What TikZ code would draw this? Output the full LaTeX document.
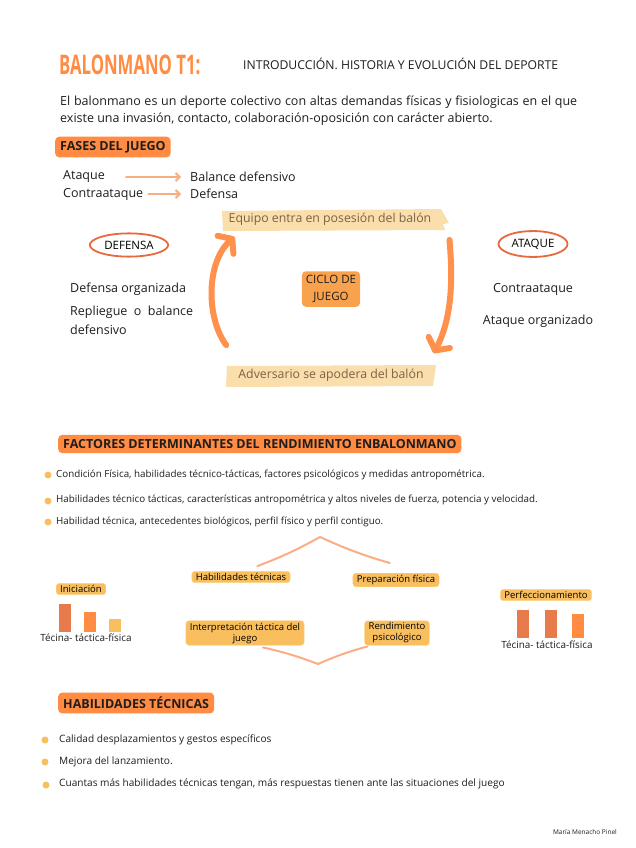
\documentclass[tikz,border=0pt]{standalone}
\usepackage{fontspec}
\setmainfont{Open Sans}
\newfontfamily\titlefont[FakeStretch=0.62]{Open Sans}
\usetikzlibrary{arrows.meta,positioning,shapes.geometric}
\definecolor{balOrange}{RGB}{255, 140, 66}
\definecolor{balDark}{RGB}{30, 30, 30}
\definecolor{balLightArrow}{RGB}{248, 174, 133}
\definecolor{balBand}{RGB}{250, 222, 172}
\definecolor{balBandText}{RGB}{122, 98, 70}
\definecolor{balRing}{RGB}{232, 105, 63}
\definecolor{balCiclo}{RGB}{249, 162, 78}
\definecolor{balBigArrow}{RGB}{255, 145, 77}
\definecolor{balYellow}{RGB}{249, 191, 94}
\definecolor{balYellowEdge}{RGB}{252, 214, 140}
\definecolor{balCurve}{RGB}{251, 174, 133}
\definecolor{balBarA}{RGB}{232, 123, 76}

\begin{document}
\begin{tikzpicture}[
  x=1pt, y=-1pt,
  body/.style={font=\fontsize{12.5}{17.5}\selectfont, text=balDark, inner sep=0pt},
  header/.style={
    fill=balOrange,
    rounded corners=4pt,
    anchor=west,
    inner xsep=5pt, inner ysep=4.5pt,
    text=balDark,
    font=\bfseries\fontsize{12.5}{14}\selectfont
  },
  band/.style={text=balBandText, inner sep=0pt,
    font=\fontsize{12.3}{14}\selectfont},
  ring/.style={ellipse, draw=balRing, line width=1.8pt, inner xsep=3pt, inner ysep=4pt,
    font=\fontsize{11.5}{13}\selectfont},
  mindbox/.style={fill=balYellow, draw=balYellowEdge, rounded corners=3pt,
    align=center, inner xsep=4pt, inner ysep=2pt,
    font=\fontsize{9.5}{11}\selectfont},
  small/.style={font=\fontsize{9.8}{11}\selectfont, text=balDark, inner sep=0pt, anchor=west},
  smaller/.style={small, font=\fontsize{10.1}{11}\selectfont},
  dot/.style={circle, fill=balYellow, inner sep=0pt, minimum size=7pt},
  arrow/.style={-{Straight Barb[length=4pt,width=8pt]}, line width=2pt, balLightArrow, line cap=round},
  bigarrow/.style={-{Straight Barb[round,length=9pt,width=24pt]}, line width=6pt, balBigArrow, line cap=round},
  bar/.style={fill=#1, draw=none}
]
  \useasboundingbox[fill=white] (0,0) rectangle (636,848);

  % title
  \node[anchor=west, inner sep=0pt, text=balOrange, font=\titlefont\bfseries\fontsize{27}{28}\selectfont]
    (title) at (59,65) {BALONMANO T1:};
  \node[anchor=west, inner sep=0pt, text=balDark, font=\fontsize{12.2}{13}\selectfont]
    (subtitle) at (243,64) {INTRODUCCIÓN. HISTORIA Y EVOLUCIÓN DEL DEPORTE};
  \node[body, anchor=north west, text width=517pt, align=justify] (intro) at (60,95.5)
    {El balonmano es un deporte colectivo con altas demandas físicas y fisiologicas en el que existe una invasión, contacto, colaboración-oposición con carácter abierto.};

  % fases del juego
  \node[header] (fases) at (55,147) {FASES DEL JUEGO};
  \node[body, anchor=west] (ataque) at (63,177) {Ataque};
  \node[body, anchor=west] (contra) at (63,194) {Contraataque};
  \node[body, anchor=west] (balance) at (190,177) {Balance defensivo};
  \node[body, anchor=west] (defensa) at (190,194) {Defensa};
  \draw[arrow] ([xshift=21pt]ataque.east) -- ([xshift=-9pt]balance.west);
  \draw[arrow] ([xshift=5pt]contra.east) -- ([xshift=-9pt]defensa.west);

  % ciclo de juego
  \fill[balBand] (222,211) -- (441,209) -- (449,223) -- (443,224) -- (445,230)
    -- (223,231) -- cycle;
  \fill[balBand] (227,366) -- (436,365) -- (433,386) -- (226,387) -- cycle;
  \node[band] (posesion) at (330,219.5) {Equipo entra en posesión del balón};
  \node[band] (apodera) at (331,375.5) {Adversario se apodera del balón};
  \node[fill=balCiclo, rounded corners=4pt, align=center, inner sep=4pt, text=balDark,
    font=\fontsize{11.5}{17}\selectfont] (ciclo) at (331,289) {CICLO DE\\JUEGO};
  \node[ring] (ringdef) at (129,245) {DEFENSA};
  \node[ring] (ringat) at (533,244) {ATAQUE};
  \draw[bigarrow] ([xshift=-12pt,yshift=24pt]apodera.north west)
    .. controls (206,318) and (206,262) .. ([xshift=6pt,yshift=-11pt]posesion.south west);
  \draw[bigarrow] ([xshift=18pt,yshift=-14pt]posesion.south east)
    .. controls (453,280) and (452,318) .. ([xshift=10pt,yshift=16pt]apodera.north east);

  \node[body, anchor=west] (deforg) at (70,289) {Defensa organizada};
  \node[body, anchor=north west, text width=123pt, align=justify,
    font=\fontsize{12.5}{18.5}\selectfont] (repliegue) at (70,306)
    {Repliegue o balance defensivo};
  \node[body] (contra2) at (533,289) {Contraataque};
  \node[body] (atorg) at (538,321) {Ataque organizado};

  % factores
  \node[header, minimum width=402pt, align=left] (factores) at (58,444)
    {FACTORES DETERMINANTES DEL RENDIMIENTO ENBALONMANO};
  \node[dot] (d1) at (48,475) {};
  \node[dot] (d2) at (48,501) {};
  \node[dot] (d3) at (48,522) {};
  \node[small] (f1) at (56,475) {Condición Física, habilidades técnico-tácticas, factores psicológicos y medidas antropométrica.};
  \node[small] (f2) at (56,500) {Habilidades técnico tácticas, características antropométrica y altos niveles de fuerza, potencia y velocidad.};
  \node[small] (f3) at (56,522) {Habilidad técnica, antecedentes biológicos, perfil físico y perfil contiguo.};

  % mapa
  \node[mindbox] (habtec) at (241,577) {Habilidades técnicas};
  \node[mindbox] (prepfis) at (396,580) {Preparación física};
  \node[mindbox] (interp) at (245,633) {Interpretación táctica del\\juego};
  \node[mindbox] (rendpsi) at (397,633) {Rendimiento\\psicológico};
  \coordinate (cumbre) at (320,537);
  \coordinate (valle) at (318,664);
  \draw[balCurve, line width=2pt, line cap=round]
    ([xshift=-33pt,yshift=5pt]habtec.north east) to[bend right=4] (cumbre)
    to[bend right=4] ([xshift=37pt,yshift=10pt]prepfis.north west);
  \draw[balCurve, line width=2pt, line cap=round]
    ([xshift=18pt,yshift=-2pt]interp.south) to[bend left=4] (valle)
    to[bend left=4] ([xshift=3pt,yshift=-1pt]rendpsi.south west);

  % iniciacion
  \node[mindbox] (inicia) at (81,589) {Iniciación};
  \fill[bar=balBarA] (59,604) rectangle (71,632);
  \fill[bar=balOrange] (84,612) rectangle (96,632);
  \fill[bar=balYellow] (109,619) rectangle (121,632);
  \node[smaller, anchor=center, font=\fontsize{9.9}{11}\selectfont] (inilab) at (86,638) {Técina- táctica-física};

  % perfeccionamiento
  \node[mindbox] (perfec) at (546,595) {Perfeccionamiento};
  \fill[bar=balBarA] (517,610) rectangle (529,638);
  \fill[bar=balBarA] (545,610) rectangle (557,638);
  \fill[bar=balOrange] (572,614) rectangle (584,638);
  \node[smaller, anchor=center, font=\fontsize{9.9}{11}\selectfont] (perlab) at (547,645) {Técina- táctica-física};

  % habilidades tecnicas
  \node[header] (habil) at (58,703) {HABILIDADES TÉCNICAS};
  \node[dot] (h1) at (45,740) {};
  \node[dot] (h2) at (45,762) {};
  \node[dot] (h3) at (46,785) {};
  \node[smaller] (t1) at (59,740) {Calidad desplazamientos y gestos específicos};
  \node[smaller] (t2) at (59,762) {Mejora del lanzamiento.};
  \node[smaller] (t3) at (59,784) {Cuantas más habilidades técnicas tengan, más respuestas tienen ante las situaciones del juego};

  \node[anchor=east, inner sep=0pt, text=balDark, font=\fontsize{6.5}{8}\selectfont]
    (autora) at (617,832) {María Menacho Pinel};
\end{tikzpicture}
\end{document}
